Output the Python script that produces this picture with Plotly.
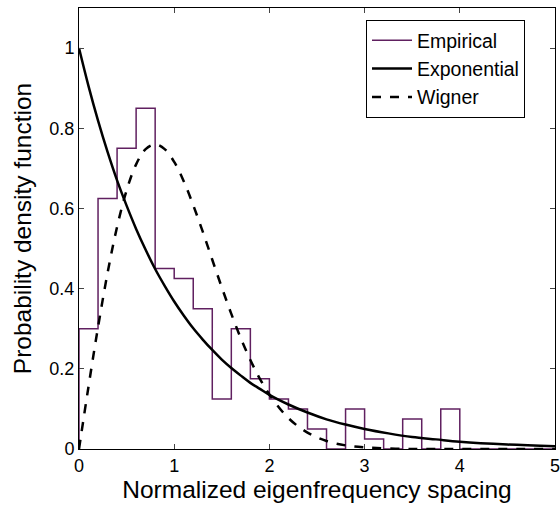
import plotly.graph_objects as go

# Histogram (empirical) - bin edges and densities
bin_edges = [0.0, 0.2, 0.4, 0.6, 0.8, 1.0, 1.2, 1.4, 1.6, 1.8, 2.0, 2.2, 2.4, 2.6,
             2.8, 3.0, 3.2, 3.4, 3.6, 3.8, 4.0, 4.2, 4.4, 4.6, 4.8, 5.0]
empirical = [0.300, 0.625, 0.750, 0.850, 0.450, 0.425, 0.350, 0.125, 0.300, 0.175,
             0.125, 0.100, 0.050, 0.000, 0.100, 0.025, 0.000, 0.075, 0.000, 0.100,
             0.000, 0.000, 0.000, 0.000, 0.000]

# Exponential curve
exp_x = [0.0, 0.1, 0.2, 0.3, 0.4, 0.5, 0.6, 0.7, 0.8, 0.9, 1.0, 1.1, 1.2, 1.3, 1.4,
         1.5, 1.6, 1.7, 1.8, 1.9, 2.0, 2.2, 2.4, 2.6, 2.8, 3.0, 3.25, 3.5, 3.75, 4.0,
         4.5, 5.0]
exp_y = [1.000, 0.905, 0.819, 0.741, 0.670, 0.607, 0.549, 0.497, 0.449, 0.407, 0.368,
         0.333, 0.301, 0.273, 0.247, 0.223, 0.202, 0.183, 0.165, 0.150, 0.135, 0.111,
         0.091, 0.074, 0.061, 0.050, 0.039, 0.030, 0.024, 0.018, 0.011, 0.007]

# Wigner curve
wig_x = [0.0, 0.1, 0.2, 0.3, 0.4, 0.5, 0.6, 0.7, 0.8, 0.9, 1.0, 1.1, 1.2, 1.3, 1.4,
         1.5, 1.6, 1.7, 1.8, 1.9, 2.0, 2.2, 2.4, 2.6, 2.8, 3.0, 3.5, 4.0, 4.5, 5.0]
wig_y = [0.000, 0.156, 0.304, 0.439, 0.554, 0.645, 0.710, 0.748, 0.760, 0.748, 0.716,
         0.668, 0.608, 0.542, 0.472, 0.403, 0.337, 0.276, 0.222, 0.175, 0.136, 0.077,
         0.041, 0.020, 0.009, 0.004, 0.000, 0.000, 0.000, 0.000]

x_ticks = [0, 1, 2, 3, 4, 5]
y_ticks = [0, 0.2, 0.4, 0.6, 0.8, 1.0]
y_tick_labels = ["0", "0.2", "0.4", "0.6", "0.8", "1"]

hist_x = [bin_edges[0]] + bin_edges
hist_y = [0.0] + empirical + [empirical[-1]]

fig = go.Figure()
fig.add_trace(go.Scatter(x=hist_x, y=hist_y, mode="lines", name="Empirical",
                         line=dict(color="rgb(96,32,96)", width=1.5, shape="hv")))
fig.add_trace(go.Scatter(x=exp_x, y=exp_y, mode="lines", name="Exponential",
                         line=dict(color="black", width=2.5, shape="spline")))
fig.add_trace(go.Scatter(x=wig_x, y=wig_y, mode="lines", name="Wigner",
                         line=dict(color="black", width=2.5, dash="dash", shape="spline")))

font = "Liberation Sans, Arial, sans-serif"
L, R, T, B = 79, 5, 8, 58
pw = 560 - L - R
ph = 507 - T - B
fig.update_layout(
    width=560, height=507,
    margin=dict(l=L, r=R, t=T, b=B, autoexpand=False),
    paper_bgcolor="white", plot_bgcolor="white",
    font=dict(family=font, size=17, color="black"),
    showlegend=True,
    legend=dict(x=(366 - L) / pw, y=(T + ph - 20) / ph, xanchor="left", yanchor="top",
                bordercolor="black", borderwidth=1, bgcolor="white",
                font=dict(size=19.5), tracegroupgap=0, itemwidth=40),
    xaxis=dict(range=[0, 5], tickvals=x_ticks, ticks="inside", ticklen=5,
               showline=True, linecolor="black", linewidth=1, mirror="allticks",
               showgrid=False, zeroline=False, automargin=False,
               ticklabeloverflow="allow",
               title=dict(text="Normalized eigenfrequency spacing", font=dict(size=24.5), standoff=2),
               tickfont=dict(size=18)),
    yaxis=dict(range=[0, 1.1], tickvals=y_ticks, ticktext=y_tick_labels,
               ticks="inside", ticklen=5,
               showline=True, linecolor="black", linewidth=1, mirror="allticks",
               showgrid=False, zeroline=False, automargin=False,
               ticklabeloverflow="allow",
               title=dict(text="Probability density function", font=dict(size=24.5), standoff=10),
               tickfont=dict(size=18)),
)

fig.write_html("out.html", config={"displayModeBar": False},
               post_script="document.body.style.margin='0';document.body.style.overflow='hidden';")
